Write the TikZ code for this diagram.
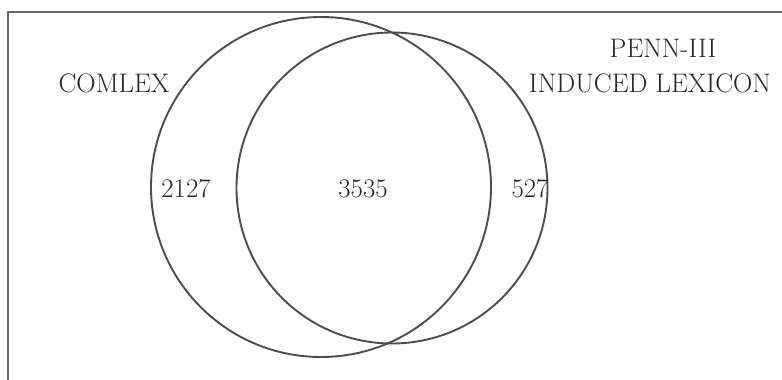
\documentclass[tikz,border=0pt]{standalone}
\begin{document}
\begin{tikzpicture}[x=1pt,y=-1pt,
  ring/.style={circle,draw=black!70,line width=1.9pt,inner sep=0pt},
  lbl/.style={anchor=base,inner sep=0pt,text=black!85,font=\fontsize{26.8}{31}\selectfont},
  frameline/.style={draw=black!60,line width=1.9pt}]
\useasboundingbox (0,0) rectangle (782,380);
\coordinate (fl) at (8,380);
\coordinate (fc) at (8,12);
\coordinate (fr) at (782,12);
\draw[frameline] (fl) -- (fc) -- (fr);
\node[ring,minimum size=340pt] (comlexc) at (321,187) {};
\node[ring,minimum size=311pt] (pennc) at (392,188) {};
\node[lbl] (comlex) at (114,92) {COMLEX};
\node[lbl] (penn) at (663,57) {PENN-III};
\node[lbl] (induced) at (650,92) {INDUCED LEXICON};
\node[lbl] (n1) at (186,197) {2127};
\node[lbl] (n2) at (363,197) {3535};
\node[lbl] (n3) at (530,197) {527};
\end{tikzpicture}
\end{document}
